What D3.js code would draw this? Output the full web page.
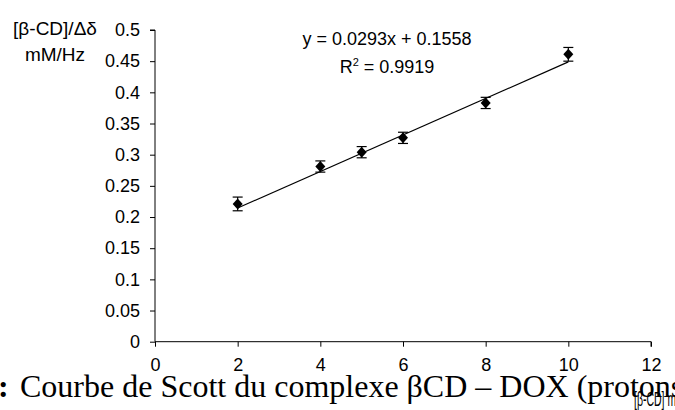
<!DOCTYPE html>
<html><head><meta charset="utf-8">
<script src="https://cdn.jsdelivr.net/npm/d3@7"></script>
<style>html,body{margin:0;padding:0;background:#fff;} svg{display:block;}</style>
</head><body>
<svg id="c" width="675" height="410"></svg>
<script>
const xValues = [2, 4, 5, 6, 8, 10];
const yValues = [0.221, 0.281, 0.304, 0.327, 0.383, 0.461];
const errValues = [0.011, 0.009, 0.009, 0.009, 0.009, 0.011];
const xTicks = [0, 2, 4, 6, 8, 10, 12];
const yTicks = [0, 0.05, 0.1, 0.15, 0.2, 0.25, 0.3, 0.35, 0.4, 0.45, 0.5];
const slope = 0.0293, intercept = 0.1558, r2 = "0.9919";

const svg = d3.select("#c");
const x = d3.scaleLinear().domain([0, 12]).range([155, 651]);
const y = d3.scaleLinear().domain([0, 0.5]).range([341.7, 30]);
const font = "'Liberation Sans', Arial, sans-serif";

// axes
const yAxis = d3.axisLeft(y).tickValues(yTicks).tickSize(5).tickPadding(8)
  .tickFormat(d => d3.format("")(+d.toFixed(2)));
const gy = svg.append("g").attr("transform", "translate(155,0)").call(yAxis);
gy.select(".domain").attr("stroke", "#000").attr("d", "M-5,30H0V341.7");
gy.selectAll("line").attr("stroke", "#000");
gy.selectAll("text").attr("font-family", font).attr("font-size", 18).attr("fill", "#000").attr("dx", -2);

const xAxis = d3.axisBottom(x).tickValues(xTicks).tickSize(5).tickPadding(12).tickFormat(d3.format("d"));
const gx = svg.append("g").attr("transform", "translate(0,341.7)").call(xAxis);
gx.select(".domain").attr("stroke", "#000").attr("d", "M155,0H651V5");
gx.selectAll("line").attr("stroke", "#000");
gx.selectAll("text").attr("font-family", font).attr("font-size", 18).attr("fill", "#000");

// trend line
const xMin = d3.min(xValues), xMax = d3.max(xValues);
svg.append("line")
  .attr("x1", x(xMin)).attr("y1", y(slope * xMin + intercept))
  .attr("x2", x(xMax)).attr("y2", y(slope * xMax + intercept))
  .attr("stroke", "#000").attr("stroke-width", 1.2);

// error bars
const data = xValues.map((v, i) => ({x: v, y: yValues[i], e: errValues[i]}));
const eb = svg.append("g").attr("stroke", "#000").attr("stroke-width", 1.2);
data.forEach(d => {
  eb.append("line").attr("x1", x(d.x)).attr("x2", x(d.x)).attr("y1", y(d.y - d.e)).attr("y2", y(d.y + d.e));
  eb.append("line").attr("x1", x(d.x) - 5).attr("x2", x(d.x) + 5).attr("y1", y(d.y + d.e)).attr("y2", y(d.y + d.e));
  eb.append("line").attr("x1", x(d.x) - 5).attr("x2", x(d.x) + 5).attr("y1", y(d.y - d.e)).attr("y2", y(d.y - d.e));
});

// markers
svg.append("g").selectAll("path").data(data).join("path")
  .attr("d", d => `M${x(d.x)},${y(d.y) - 5.5}L${x(d.x) + 5},${y(d.y)}L${x(d.x)},${y(d.y) + 5.5}L${x(d.x) - 5},${y(d.y)}Z`)
  .attr("fill", "#000");

// equation
svg.append("text").attr("x", 387).attr("y", 45).attr("text-anchor", "middle")
  .attr("font-family", font).attr("font-size", 18)
  .text(`y = ${slope}x + ${intercept}`);
const rt = svg.append("text").attr("x", 387).attr("y", 73).attr("text-anchor", "middle")
  .attr("font-family", font).attr("font-size", 18);
rt.append("tspan").text("R");
rt.append("tspan").attr("font-size", 11).attr("dy", -7).text("2");
rt.append("tspan").attr("dy", 7).text(" = " + r2);

// y title
const yt = svg.append("text").attr("text-anchor", "middle").attr("font-family", font).attr("font-size", 19);
yt.append("tspan").attr("x", 55).attr("y", 35).text("[β-CD]/Δδ");
yt.append("tspan").attr("x", 55).attr("y", 61).text("mM/Hz");

// x title (partly cut)
svg.append("text").attr("transform", "translate(634,406) scale(0.5,1)")
  .attr("font-family", font).attr("font-size", 21).text("[β-CD] mM");

// caption overlay
const serif = "'Liberation Serif', 'Times New Roman', serif";
svg.append("text").attr("x", -2).attr("y", 397).attr("font-family", serif)
  .attr("font-size", 32).attr("font-weight", "bold").text(":");
svg.append("text").attr("x", 20).attr("y", 397).attr("font-family", serif)
  .attr("font-size", 32).text("Courbe de Scott du complexe βCD – DOX (protons");
</script>
</body></html>
